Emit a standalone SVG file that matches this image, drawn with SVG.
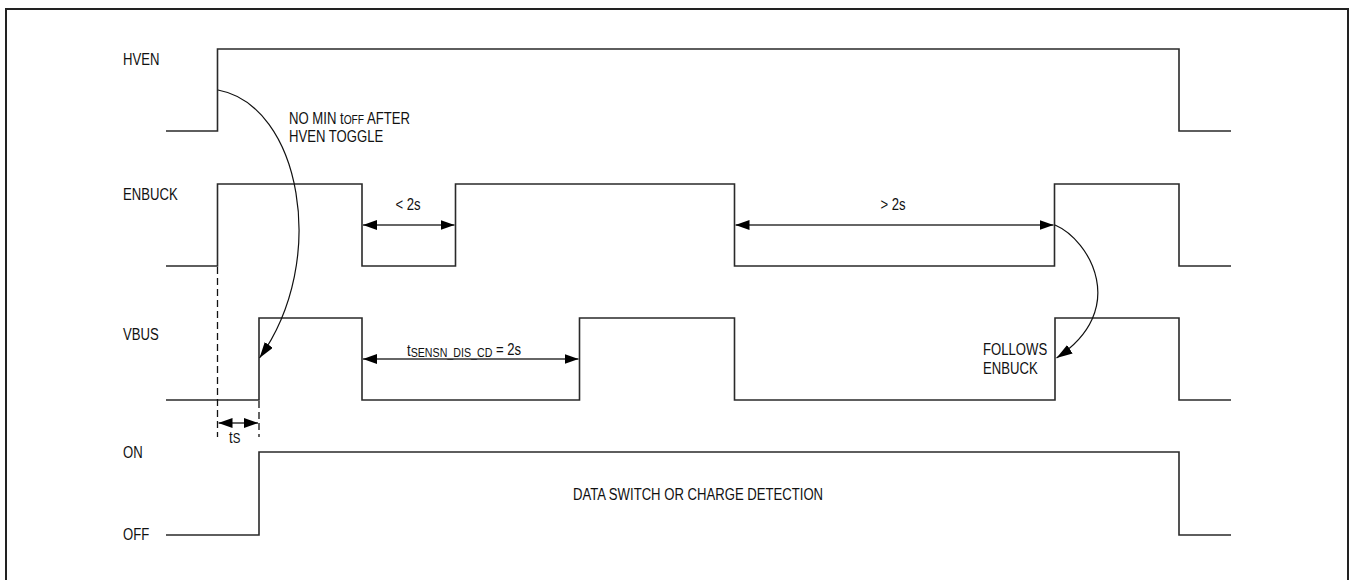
<svg xmlns="http://www.w3.org/2000/svg" width="1351" height="580" viewBox="0 0 1351 580">
<style>
.w{fill:none;stroke:#2a2a2a;stroke-width:1.6;stroke-linejoin:miter}
.d{fill:none;stroke:#111;stroke-width:1.3;stroke-dasharray:7 4}
.a{fill:none;stroke:#333;stroke-width:1.6}
.c{fill:none;stroke:#111;stroke-width:1.2}
text{font-family:"Liberation Sans",Arial,sans-serif;font-size:16px;fill:#111}
.s{font-size:12.5px}
.m{text-anchor:middle}
</style>
<defs>
<marker id="ah" viewBox="0 0 14 10" refX="14" refY="5" markerWidth="14" markerHeight="10" markerUnits="userSpaceOnUse" orient="auto-start-reverse"><path d="M0,0 L14,5 L0,10 Z" fill="#000"/></marker>
<marker id="ac" viewBox="0 0 16 10" refX="16" refY="5" markerWidth="16" markerHeight="10" markerUnits="userSpaceOnUse" orient="auto"><path d="M0,0 L16,5 L0,10 Z" fill="#000"/></marker>
</defs>
<rect x="6" y="9" width="1342" height="580" fill="#fff" stroke="#222" stroke-width="2"/>
<g id="hven">
<text transform="translate(123,64.5) scale(0.82,1)">HVEN</text>
<path class="w" d="M166,131 H217.5 V49 H1179 V131 H1231"/>
</g>
<g id="enbuck">
<text transform="translate(123,200) scale(0.82,1)">ENBUCK</text>
<path class="w" d="M166,266 H217.5 V184 H362 V266 H455.5 V184 H734.5 V266 H1054.5 V184 H1179 V266 H1231"/>
</g>
<g id="vbus">
<text transform="translate(123,339.5) scale(0.82,1)">VBUS</text>
<path class="w" d="M166,400 H259 V318 H362 V400 H579.5 V318 H734.5 V400 H1055 V318 H1179 V400 H1231"/>
</g>
<g id="state">
<text transform="translate(123,457.5) scale(0.82,1)">ON</text>
<text transform="translate(123,540) scale(0.82,1)">OFF</text>
<path class="w" d="M166,535 H259 V452 H1179 V535 H1231"/>
<text class="m" transform="translate(698,500) scale(0.82,1)">DATA SWITCH OR CHARGE DETECTION</text>
</g>
<g id="labels">
<text transform="translate(289,124) scale(0.82,1)">NO MIN t<tspan class="s">OFF</tspan> AFTER</text>
<text transform="translate(289,142) scale(0.82,1)">HVEN TOGGLE</text>
<text class="m" transform="translate(408,210) scale(0.82,1)">&lt; 2s</text>
<text class="m" transform="translate(893,210) scale(0.82,1)">&gt; 2s</text>
<text transform="translate(407,356) scale(0.82,1)">t<tspan dy="1" style="font-size:13px">SENSN_DIS_CD</tspan><tspan dy="-2.5"> = 2s</tspan></text>
<text transform="translate(229,443) scale(0.82,1)">t<tspan style="font-size:14px">S</tspan></text>
<text transform="translate(983,355) scale(0.82,1)">FOLLOWS</text>
<text transform="translate(983,374) scale(0.82,1)">ENBUCK</text>
</g>
<g id="connectors">
<line class="d" x1="217.5" y1="267" x2="217.5" y2="437"/>
<line class="d" x1="259" y1="401" x2="259" y2="437"/>
<line class="a" x1="363" y1="225" x2="454.5" y2="225" marker-start="url(#ah)" marker-end="url(#ah)"/>
<line class="a" x1="735.5" y1="225" x2="1053.5" y2="225" marker-start="url(#ah)" marker-end="url(#ah)"/>
<line class="a" x1="363" y1="359" x2="578.5" y2="359" marker-start="url(#ah)" marker-end="url(#ah)"/>
<line class="a" x1="218.5" y1="423" x2="258" y2="423" marker-start="url(#ah)" marker-end="url(#ah)"/>
<path class="c" d="M218,90 C300,105 330,260 259.5,358" marker-end="url(#ac)"/>
<path class="c" d="M1055,225 C1090,240 1130,310 1056.5,358" marker-end="url(#ac)"/>
</g>
</svg>
